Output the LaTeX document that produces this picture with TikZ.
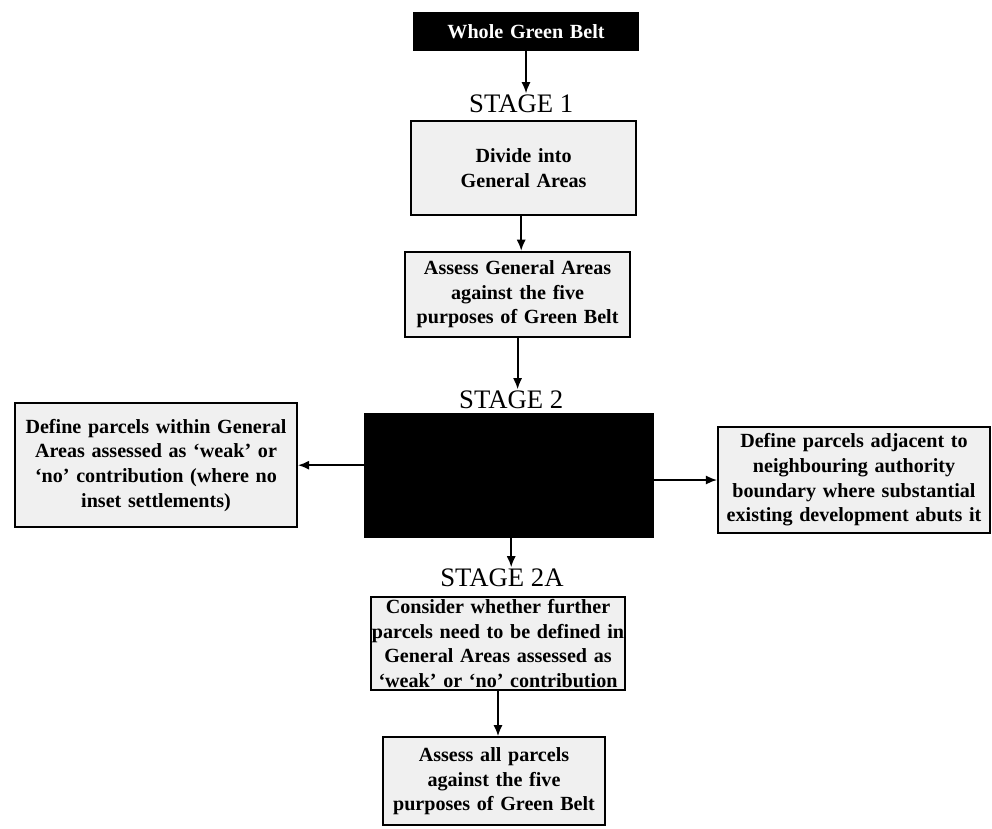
\documentclass[tikz,border=0pt]{standalone}
\usepackage{fontspec}
\setmainfont{Liberation Serif}
\usetikzlibrary{arrows.meta}
\begin{document}
\begin{tikzpicture}[
    stepbox/.style={draw, rectangle, fill=gray!12, line width=1.3pt, inner sep=0pt, align=center, font=\bfseries\fontsize{14.3}{17.5}\selectfont},
    darkbox/.style={draw, rectangle, fill=black, line width=1.3pt, inner sep=0pt, align=center, text=white, font=\bfseries\fontsize{14.3}{17.5}\selectfont},
    stagelabel/.style={inner sep=1pt, font=\fontsize{19}{22}\selectfont},
    flow/.style={-{Latex[length=2.8mm, width=2.3mm]}, line width=1.4pt}
]
    \useasboundingbox (0,0) rectangle (24.8,-20.7);
    % main column, stage by stage
    \node[darkbox, text width=5.58cm, minimum height=0.93cm] (whole) at (13.15,-0.78) {Whole Green Belt};
    \node[stagelabel] (stageone) at (13.03,-2.6) {STAGE 1};
    \node[stepbox, text width=5.63cm, minimum height=2.35cm] (divide) at (13.09,-4.2) {Divide into\\ General Areas};
    \node[stepbox, text width=5.63cm, minimum height=2.13cm] (assessareas) at (12.94,-7.36) {Assess General Areas\\ against the five\\ purposes of Green Belt};
    \node[stagelabel] (stagetwo) at (12.78,-10.0) {STAGE 2};
    \node[darkbox, text width=7.2cm, minimum height=3.08cm] (parcels) at (12.73,-11.89) {};
    \node[stepbox, text width=7.05cm, minimum height=3.1cm] (weakareas) at (3.9,-11.63) {Define parcels within General\\ Areas assessed as ‘weak’ or\\ ‘no’ contribution (where no\\ inset settlements)};
    \node[stepbox, text width=6.8cm, minimum height=2.65cm] (boundary) at (21.35,-12.0) {Define parcels adjacent to\\ neighbouring authority\\ boundary where substantial\\ existing development abuts it};
    \node[stagelabel] (stagetwoa) at (12.55,-14.45) {STAGE 2A};
    \node[stepbox, text width=6.35cm, minimum height=2.33cm] (further) at (12.45,-16.09) {Consider whether further\\ parcels need to be defined in\\ General Areas assessed as\\ ‘weak’ or ‘no’ contribution};
    \node[stepbox, text width=5.55cm, minimum height=2.2cm] (assessparcels) at (12.35,-19.53) {Assess all parcels\\ against the five\\ purposes of Green Belt};

    \draw[flow] (whole.south) -- (whole.south |- stageone.north);
    \draw[flow] (stageone.south |- divide.south) -- (stageone.south |- assessareas.north);
    \draw[flow] (assessareas.south) -- (assessareas.south |- stagetwo.north);
    \draw[flow] (parcels.west |- weakareas.east) -- (weakareas.east);
    \draw[flow] (parcels.east |- boundary.west) -- (boundary.west);
    \draw[flow] (stagetwo.south |- parcels.south) -- (stagetwo.south |- stagetwoa.north);
    \draw[flow] (further.south) -- (further.south |- assessparcels.north);
\end{tikzpicture}
\end{document}
